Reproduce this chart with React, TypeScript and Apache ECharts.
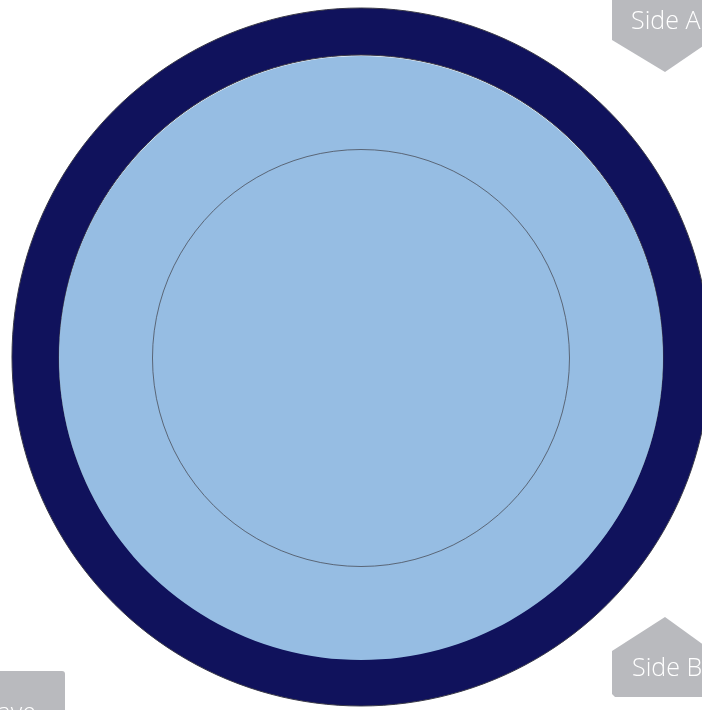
import React, { useEffect, useRef } from "react";
import * as echarts from "echarts";

// Layers of the disc, outer to inner
const layerNames = ["Outer ring", "Face", "Inner circle"];
const layerValues = [1, 1, 1];
const layerColors = ["#10125c", "#96bde3", "rgba(0,0,0,0)"];
// Side labels
const sideLabels = ["Side A", "Side B", "Concave"];

export default function App() {
  const ref = useRef<HTMLDivElement>(null);
  useEffect(() => {
    document.body.style.margin = "0";
    const chart = echarts.init(ref.current!, null, { renderer: "svg" });
    const cx = 361;
    const cy = 357;
    const font = "'Open Sans', 'Noto Sans', sans-serif";
    const tagColor = "#b9babe";
    chart.setOption({
      animation: false,
      series: [
        {
          type: "pie",
          center: [cx, cy],
          radius: [302, 349],
          silent: true,
          label: { show: false },
          labelLine: { show: false },
          itemStyle: { color: layerColors[0], borderColor: "#3a3a48", borderWidth: 1 },
          data: [{ name: layerNames[0], value: layerValues[0] }],
        },
        {
          type: "pie",
          center: [cx, cy + 1],
          radius: [0, 302],
          silent: true,
          label: { show: false },
          labelLine: { show: false },
          itemStyle: { color: layerColors[1], borderWidth: 0 },
          data: [{ name: layerNames[1], value: layerValues[1] }],
        },
        {
          type: "pie",
          center: [cx, cy + 1],
          radius: [0, 208.5],
          silent: true,
          label: { show: false },
          labelLine: { show: false },
          itemStyle: { color: layerColors[2], borderColor: "#4a4f5a", borderWidth: 0.8 },
          data: [{ name: layerNames[2], value: layerValues[2] }],
        },
      ],
      graphic: [
        {
          type: "polygon",
          shape: { points: [[612, -5], [712, -5], [712, 40], [665, 72], [612, 40]] },
          style: { fill: tagColor },
        },
        {
          type: "text",
          x: 631,
          y: 19,
          style: { text: sideLabels[0], fill: "#ffffff", fontSize: 25, fontWeight: 300, fontFamily: font, verticalAlign: "middle" },
        },
        {
          type: "polygon",
          shape: { points: [[665, 617], [712, 651], [712, 697], [615, 697], [612, 694], [612, 651]] },
          style: { fill: tagColor },
        },
        {
          type: "text",
          x: 632,
          y: 666,
          style: { text: sideLabels[1], fill: "#ffffff", fontSize: 25, fontWeight: 300, fontFamily: font, verticalAlign: "middle" },
        },
        {
          type: "rect",
          shape: { x: -40, y: 671, width: 105, height: 60, r: 3 },
          style: { fill: tagColor },
        },
        {
          type: "text",
          x: 36,
          y: 711,
          style: { text: sideLabels[2], fill: "#ffffff", fontSize: 25, fontWeight: 300, fontFamily: font, align: "right", verticalAlign: "middle" },
        },
      ],
    });
    return () => chart.dispose();
  }, []);
  return <div ref={ref} style={{ position: "fixed", left: 0, top: 0, width: 702, height: 710 }} />;
}
